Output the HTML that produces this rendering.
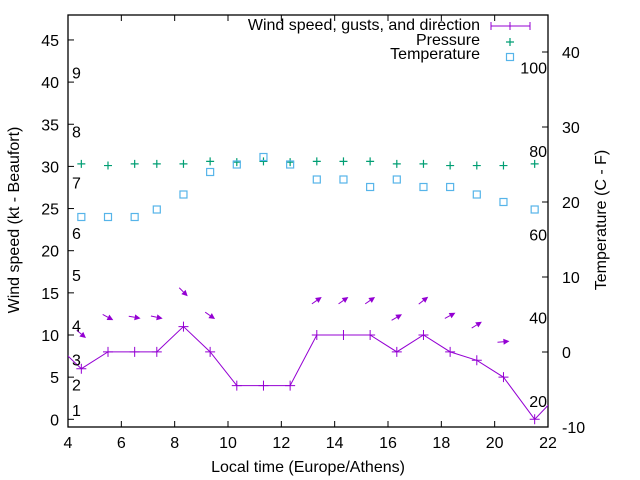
<!DOCTYPE html>
<html><head><meta charset="utf-8"><style>
html,body{margin:0;padding:0;background:#fff;}
svg{display:block;font-family:"Liberation Sans",sans-serif;}
text{font-size:16px;fill:#000;}
</style></head><body>
<svg id="chart" width="640" height="480" viewBox="0 0 640 480" xmlns="http://www.w3.org/2000/svg">
<defs><clipPath id="clip"><rect x="68" y="15" width="480" height="412"/></clipPath></defs>
<g id="grid"></g>
<g id="marks" clip-path="url(#clip)"></g>
<g id="labels"></g>
</svg>
<script>
const times=[4.5,5.5,6.5,7.33,8.33,9.33,10.33,11.33,12.33,13.33,14.33,15.33,16.33,17.33,18.33,19.33,20.33,21.5];
const windSpeed=[6,8,8,8,11,8,4,4,4,10,10,10,8,10,8,7,5,0];
const windEdgeTimes=[3.5,22.5];
const windEdgeValues=[9,3.3];
const gusts=[10.1,12.1,12.1,12.1,15.1,12.3,null,null,null,14.1,14.1,14.1,12.1,14.1,12.3,11.2,9.2,null];
const windAngle=[40,28,10,12,45,35,null,null,null,-35,-35,-35,-30,-38,-28,-32,-5,null];
const pressure=[30.3,30.1,30.3,30.3,30.3,30.6,30.5,30.6,30.5,30.6,30.6,30.6,30.3,30.3,30.1,30.1,30.1,30.3];
const temperature=[18,18,18,19,21,24,25,26,25,23,23,22,23,22,22,21,20,19];
const xTicks=[4,6,8,10,12,14,16,18,20,22];
const yTicks=[0,5,10,15,20,25,30,35,40,45];
const y2Ticks=[-10,0,10,20,30,40];
const beaufortLevels=[1,4,7,11,17,22,28,34,41];
const beaufortLabels=["1","2","3","4","5","6","7","8","9"];
const fahrenheitTicks=[20,40,60,80,100];

const L=68,R=548,T=15,B=427;
const X=t=>L+(t-4)*(R-L)/18;
const Y=v=>419.3-v*8.43;
const Y2=c=>352-c*7.5;
const NS="http://www.w3.org/2000/svg";
function mk(tag,attrs,parent,txt){const e=document.createElementNS(NS,tag);for(const k in attrs)e.setAttribute(k,attrs[k]);if(txt!==undefined)e.textContent=txt;parent.appendChild(e);return e;}
const grid=document.getElementById('grid'),marks=document.getElementById('marks'),labels=document.getElementById('labels');

let frame=mk('rect',{x:L,y:T,width:R-L,height:B-T,fill:'none',stroke:'#000','stroke-width':1.3},grid);

xTicks.forEach(t=>{
 mk('line',{x1:X(t),x2:X(t),y1:B,y2:B-6,stroke:'#000'},grid);
 mk('line',{x1:X(t),x2:X(t),y1:T,y2:T+6,stroke:'#000'},grid);
 let e=mk('text',{x:X(t),y:B+21,'text-anchor':'middle'},labels,String(t));
 
});
yTicks.forEach(v=>{
 mk('line',{x1:L,x2:L+6,y1:Y(v),y2:Y(v),stroke:'#000'},grid);
 let e=mk('text',{x:L-9,y:Y(v)+6,'text-anchor':'end'},labels,String(v));
 
});
y2Ticks.forEach(v=>{
 mk('line',{x1:R,x2:R-6,y1:Y2(v),y2:Y2(v),stroke:'#000'},grid);
 let e=mk('text',{x:562,y:Y2(v)+6,'text-anchor':'start'},labels,String(v));
 
});
beaufortLevels.forEach((v,i)=>{
 let e=mk('text',{x:72,y:Y(v)+5,'text-anchor':'start'},labels,beaufortLabels[i]);
 
});
fahrenheitTicks.forEach(f=>{
 let e=mk('text',{x:547,y:Y2((f-32)*5/9)+5,'text-anchor':'end'},labels,String(f));
 
});

const pts=[[windEdgeTimes[0],windEdgeValues[0]]].concat(times.map((t,i)=>[t,windSpeed[i]])).concat([[windEdgeTimes[1],windEdgeValues[1]]]);
let wl=mk('polyline',{points:pts.map(p=>X(p[0])+','+Y(p[1])).join(' '),fill:'none',stroke:'#9400d3','stroke-width':1},marks);

times.forEach((t,i)=>{
 const x=X(t),y=Y(windSpeed[i]);
 let g=mk('path',{d:`M${x-5},${y}H${x+5}M${x},${y-5}V${y+5}`,stroke:'#9400d3','stroke-width':1},marks);
 
});
times.forEach((t,i)=>{
 if(gusts[i]===null)return;
 const a=windAngle[i]*Math.PI/180,len=12,cx=X(t),cy=Y(gusts[i]);
 const dx=Math.cos(a),dy=Math.sin(a);
 const x1=cx-dx*len/2,y1=cy-dy*len/2,x2=cx+dx*len/2,y2=cy+dy*len/2;
 const hl=6,hw=3;
 const bx=x2-dx*hl,by=y2-dy*hl;
 let g=mk('g',{},marks);
 
 mk('line',{x1:x1,y1:y1,x2:bx,y2:by,stroke:'#9400d3','stroke-width':1},g);
 mk('polygon',{points:`${x2},${y2} ${bx-dy*hw},${by+dx*hw} ${bx+dy*hw},${by-dx*hw}`,fill:'#9400d3'},g);
});
times.forEach((t,i)=>{
 const x=X(t),y=Y(pressure[i]);
 let g=mk('path',{d:`M${x-4},${y}H${x+4}M${x},${y-4}V${y+4}`,stroke:'#009e73','stroke-width':1.2},marks);
 
});
times.forEach((t,i)=>{
 const x=X(t),y=Y2(temperature[i]);
 let g=mk('rect',{x:x-3.5,y:y-3.5,width:7,height:7,fill:'none',stroke:'#56b4e9','stroke-width':1.2},marks);
 
});

let lg=mk('g',{},labels);
let t1=mk('text',{x:480,y:30,'text-anchor':'end','font-size':'14'},lg,'Wind speed, gusts, and direction');
mk('path',{d:'M491,26H530M491,22V30M530,22V30M510,22V30',stroke:'#9400d3','stroke-width':1},lg);
let t2=mk('text',{x:480,y:45,'text-anchor':'end','font-size':'14'},lg,'Pressure');
mk('path',{d:'M506,42H514M510,38V46',stroke:'#009e73','stroke-width':1.2},lg);
let t3=mk('text',{x:480,y:59,'text-anchor':'end','font-size':'14'},lg,'Temperature');
mk('rect',{x:506.5,y:53.5,width:7,height:7,fill:'none',stroke:'#56b4e9','stroke-width':1.2},lg);

let xt=mk('text',{x:308,y:472,'text-anchor':'middle','font-size':'14'},labels,'Local time (Europe/Athens)');
let yt=mk('text',{x:0,y:0,'text-anchor':'middle','font-size':'14',transform:'translate(19,220) rotate(-90)'},labels,'Wind speed (kt - Beaufort)');
let y2t=mk('text',{x:0,y:0,'text-anchor':'middle','font-size':'14',transform:'translate(606,220) rotate(-90)'},labels,'Temperature (C - F)');
</script>
</body></html>
